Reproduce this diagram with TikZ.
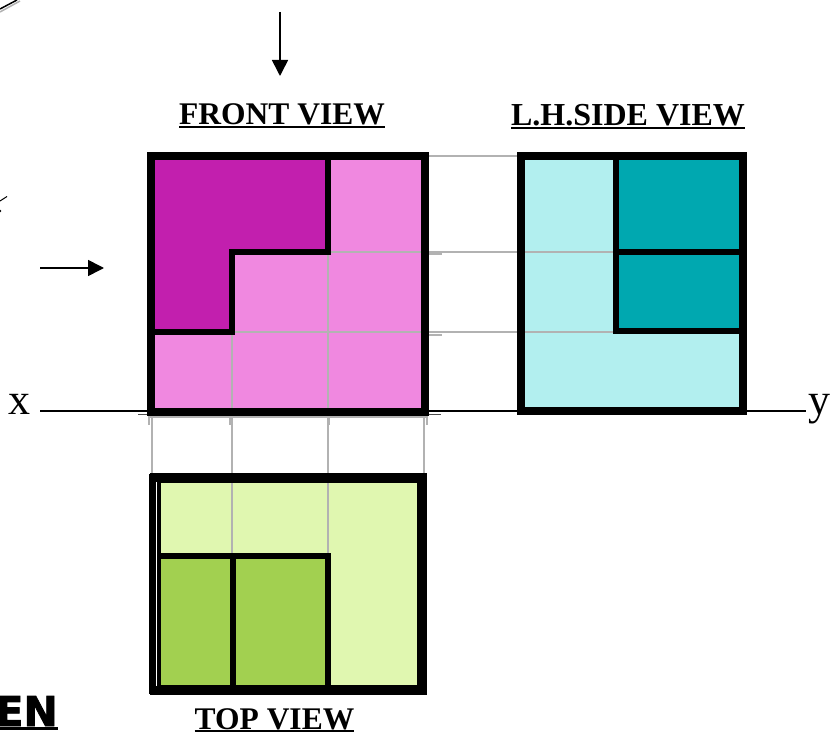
\documentclass[tikz,border=0pt]{standalone}
\usepackage{fontspec}
\setmainfont{Liberation Serif}
\newfontfamily\heavyfont[BoldFeatures={FakeBold=2}]{DejaVu Sans}
\usetikzlibrary{arrows.meta}
\newcommand{\titletext}[2]{\vtop{\hbox{\fontsize{#1}{31}\selectfont\bfseries #2}\kern1pt\hrule height 1.8pt}}
\tikzset{
  heavy/.style={line width=7.5pt,draw=black,line join=miter,line cap=rect},
  heavyt/.style={line width=9.5pt,draw=black,line join=miter,line cap=rect},
  inner/.style={line width=6pt,draw=black,line join=miter},
  guide/.style={line width=1.3pt,draw=black!30},
  axis/.style={line width=1.5pt,draw=black},
  viewarrow/.style={line width=1.6pt,draw=black,-{Triangle[length=16pt,width=16pt]}},
  title/.style={inner sep=0pt,anchor=base},
  axislabel/.style={inner sep=0pt,font=\fontsize{44}{44}\selectfont,anchor=base}
}
\definecolor{pinkl}{HTML}{F088E0}
\definecolor{pinkd}{HTML}{C21FAE}
\definecolor{tealL}{HTML}{B2EFEF}
\definecolor{tealD}{HTML}{00A8B0}
\definecolor{greenL}{HTML}{E0F7B0}
\definecolor{greenD}{HTML}{A2D050}
\begin{document}
\begin{tikzpicture}[x=1pt,y=-1pt]
\useasboundingbox (0,0) rectangle (837,735);
% stray fragments at the left edge
\draw[line width=1.5pt,black!30] (0,12) -- (20,1);
\draw[line width=1.5pt,black] (0,9) -- (17,0);
\draw[line width=1pt,black] (0,201) -- (7,196.5);
\fill (0,211) circle (1.3);
% coordinates
\coordinate (ax) at (40,411);
\coordinate (ay) at (806,411);
\coordinate (da1) at (280,12);
\coordinate (da2) at (280,76);
\coordinate (ra1) at (40,268);
\coordinate (ra2) at (104,268);
% axis
\draw[axis] (ax) -- (ay);
% front view fills
\fill[pinkl] (151,156) rectangle (425,412);
\fill[pinkd] (151,156) -- (328,156) -- (328,252) -- (232,252) -- (232,332) -- (151,332) -- cycle;
% side view fills
\fill[tealL] (521,156) rectangle (743,411);
\fill[tealD] (616,156) rectangle (743,331);
% top view fills
\fill[greenL] (155,478) rectangle (422,690);
\fill[greenD] (155,556) rectangle (328,690);
% guides
\draw[guide] (428,156) -- (520,156);
\draw[guide] (232,252) -- (613,252);
\draw[guide] (151,332) -- (613,332);
\draw[guide] (232,252) -- (232,556);
\draw[guide] (328,252) -- (328,556);
\draw[guide] (152,415) -- (152,476);
\draw[guide] (424,415) -- (424,476);
\draw[guide] (428,156) -- +(14,0);
\draw[guide] (428,254) -- +(14,0);
\draw[guide] (428,335) -- +(14,0);
\draw[guide] (150,417) -- (427,417);
\draw[guide] (149,415) -- +(0,10);
\draw[guide] (230,415) -- +(0,10);
\draw[guide] (329,415) -- +(0,10);
\draw[guide] (427,415) -- +(0,10);
\draw[line width=1pt,black!70] (138,414) -- (149,414);
\draw[line width=1pt,black!70] (427,414) -- (441,414);
% front view lines
\draw[inner] (328,156) -- (328,252) -- (232,252) -- (232,332) -- (151,332);
\draw[heavy] (151,156) rectangle (425,412);
% side view lines
\draw[inner] (616,156) -- (616,331) -- (743,331);
\draw[inner] (616,252) -- (743,252);
\draw[heavy] (521,156) rectangle (743,411);
% top view lines
\draw[inner] (155,556) -- (328,556) -- (328,690);
\draw[inner] (232.5,553) -- (232.5,690);
\draw[heavyt] (155,478) rectangle (422,690);
\draw[line width=12pt,black] (155,474) -- (155,694);
\draw[line width=1pt,white] (156.5,482) -- (156.5,686);
% arrows
\draw[viewarrow] (da1) -- (da2);
\draw[viewarrow] (ra1) -- (ra2);
% labels
\node[title] (front) at (282,125) {\titletext{31.5}{FRONT VIEW}};
\node[title] (side) at (628,126) {\titletext{32}{L.H.SIDE VIEW}};
\node[title] (top) at (274.5,729) {\titletext{31.5}{TOP VIEW}};
\node[axislabel] (xlab) at (20,414) {x};
\node[axislabel] (ylab) at (819,414) {y};
\node[inner sep=0pt,anchor=base east] (en) at (58,726) {\vtop{\hbox{\heavyfont\fontsize{41}{41}\selectfont\bfseries EN}\kern1pt\hrule height 2.5pt}};
\end{tikzpicture}
\end{document}
